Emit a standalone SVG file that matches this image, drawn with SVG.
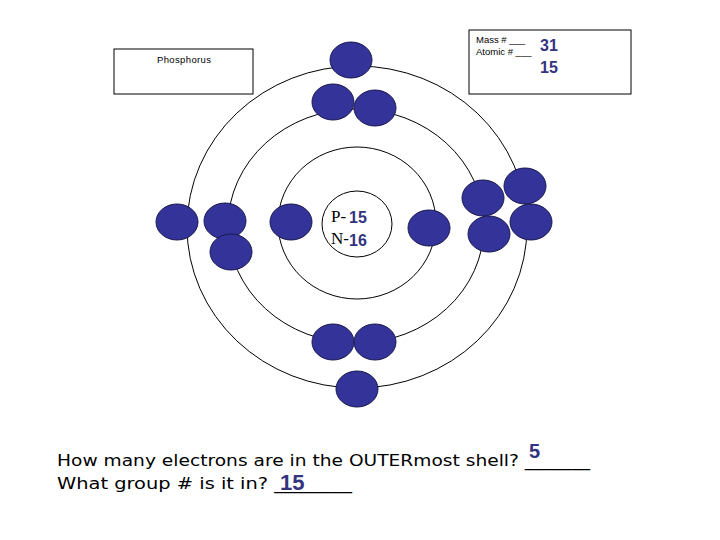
<svg xmlns="http://www.w3.org/2000/svg" width="720" height="540" viewBox="0 0 720 540">
<style>
.sh{fill:none;stroke:#000;stroke-width:1}
.e{fill:#333399;stroke:#1a1a4d;stroke-width:1}
.b{fill:#fff;stroke:#000;stroke-width:1}
.s{font-family:"Liberation Sans",Arial,sans-serif;fill:#000}
.n{font-family:"Liberation Sans",Arial,sans-serif;font-weight:bold;fill:#333380}
.q{font-family:"DejaVu Sans",Verdana,sans-serif;font-size:15px;fill:#000}
.sf{font-family:"Liberation Serif",serif;font-size:17px;fill:#000}
</style>
<rect width="720" height="540" fill="#fff"/>
<g id="boxes">
<rect class="b" x="114" y="49" width="139" height="45"/>
<text class="s" x="157" y="63" font-size="9.5" textLength="54">Phosphorus</text>
<rect class="b" x="469" y="30" width="162" height="64"/>
<text class="s" x="476" y="43" font-size="9.5">Mass #  ___</text>
<text class="s" x="476" y="55" font-size="9.5">Atomic # ___</text>
<text class="n" x="540" y="51" font-size="16">31</text>
<text class="n" x="540" y="73" font-size="16">15</text>
</g>
<g id="shells">
<ellipse class="sh" cx="357" cy="227" rx="170" ry="161"/>
<ellipse class="sh" cx="356" cy="226" rx="128" ry="117"/>
<ellipse class="sh" cx="357" cy="223" rx="79" ry="76"/>
<ellipse class="sh" cx="357" cy="224" rx="35" ry="33"/>
</g>
<g id="nucleus">
<text class="sf" x="331" y="222">P-</text><text class="n" x="349" y="223" font-size="16">15</text>
<text class="sf" x="331" y="244">N-</text><text class="n" x="349" y="246" font-size="16">16</text>
</g>
<g id="electrons">
<ellipse class="e" cx="351" cy="60" rx="21" ry="18"/>
<ellipse class="e" cx="357" cy="389" rx="21" ry="18"/>
<ellipse class="e" cx="177" cy="222" rx="21" ry="18"/>
<ellipse class="e" cx="525" cy="186" rx="21" ry="18"/>
<ellipse class="e" cx="531" cy="222" rx="21" ry="18"/>
<ellipse class="e" cx="333" cy="102" rx="21" ry="18"/>
<ellipse class="e" cx="375" cy="108" rx="21" ry="18"/>
<ellipse class="e" cx="333" cy="342" rx="21" ry="18"/>
<ellipse class="e" cx="375" cy="342" rx="21" ry="18"/>
<ellipse class="e" cx="225" cy="221" rx="21" ry="18"/>
<ellipse class="e" cx="231" cy="252" rx="21" ry="18"/>
<ellipse class="e" cx="483" cy="198" rx="21" ry="18"/>
<ellipse class="e" cx="489" cy="234" rx="21" ry="18"/>
<ellipse class="e" cx="291" cy="222" rx="21" ry="18"/>
<ellipse class="e" cx="429" cy="228" rx="21" ry="18"/>
</g>
<g id="questions">
<text class="q" x="57" y="466" textLength="533" lengthAdjust="spacingAndGlyphs">How many electrons are in the OUTERmost shell? _______</text>
<text class="n" x="529" y="458" font-size="20">5</text>
<text class="q" x="57" y="489" textLength="295" lengthAdjust="spacingAndGlyphs">What group # is it in? ________</text>
<text class="n" x="280" y="490" font-size="22">15</text>
</g>
</svg>
